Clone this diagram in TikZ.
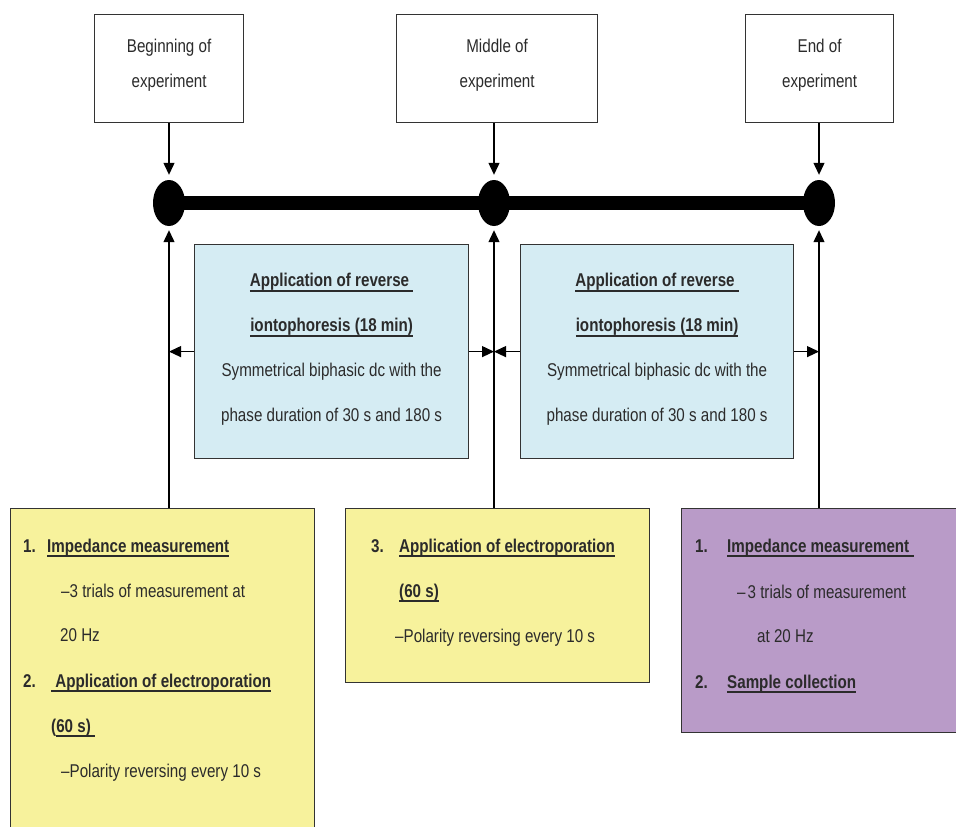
\documentclass[tikz,border=0pt]{standalone}
\usepackage{fontspec}
\setmainfont[FakeStretch=0.82]{Liberation Sans}
\usetikzlibrary{arrows.meta,shapes.geometric}
\definecolor{txt}{HTML}{2B2B2B}
\definecolor{linec}{HTML}{333333}
\definecolor{bluef}{HTML}{D5ECF3}
\definecolor{yellowf}{HTML}{F7F29C}
\definecolor{purplef}{HTML}{B99BC8}
\newcommand\myul[1]{\setbox0\hbox{#1}\rlap{\color{txt}\rule[-5pt]{\wd0}{2pt}}\box0}
\begin{document}
\begin{tikzpicture}[x=1pt,y=-1pt,
  every node/.style={text=txt},
  boxbase/.style={draw=linec, line width=1.2pt, inner sep=0pt, anchor=north west},
  topbox/.style={boxbase, fill=white, align=center, font=\fontsize{18.5}{35}\selectfont, text depth=10pt},
  bluebox/.style={boxbase, fill=bluef, align=center, font=\fontsize{18.5}{45}\selectfont, text depth=8pt},
  yellowbox/.style={boxbase, fill=yellowf},
  purplebox/.style={boxbase, fill=purplef},
  lbl/.style={anchor=base west, inner sep=0pt, font=\fontsize{18.5}{22}\selectfont},
  blbl/.style={lbl, font=\fontsize{18.5}{22}\selectfont\bfseries},
  dot/.style={ellipse, fill=black, draw=none, minimum width=32pt, minimum height=46pt, inner sep=0pt},
  arr/.style={draw=black, line width=1.2pt, -{Triangle[width=11pt,length=12pt]}}
]
\clip (0,0) rectangle (956,827);
\fill[white] (0,0) rectangle (956,827);

% top boxes
\node[topbox, minimum width=149pt, minimum height=108pt] (b1) at (94,14) {Beginning of\\experiment};
\node[topbox, minimum width=201pt, minimum height=108pt] (b2) at (396,14) {Middle of\\experiment};
\node[topbox, minimum width=148pt, minimum height=108pt] (b3) at (745,14) {End of\\experiment};

% timeline
\node[dot] (d1) at (169,203) {};
\node[dot] (d2) at (494,203) {};
\node[dot] (d3) at (819,203) {};
\draw[line width=14pt] (d1.center) -- (d3.center);

% blue boxes
\node[bluebox, minimum width=274pt, minimum height=214pt] (bA) at (194,244)
  {\textbf{\myul{Application of reverse\ }}\\\textbf{\myul{iontophoresis (18 min)}}\\Symmetrical biphasic dc with the\\phase duration of 30 s and 180 s};
\node[bluebox, minimum width=273pt, minimum height=214pt] (bB) at (520,244)
  {\textbf{\myul{Application of reverse\ }}\\\textbf{\myul{iontophoresis (18 min)}}\\Symmetrical biphasic dc with the\\phase duration of 30 s and 180 s};

% bottom boxes
\node[yellowbox, minimum width=304pt, minimum height=345pt] (y1) at (10,508) {};
\node[yellowbox, minimum width=304pt, minimum height=174pt] (y2) at (345,508) {};
\node[purplebox, minimum width=290pt, minimum height=224pt] (p1) at (681,508) {};

% connectors
\draw[arr, shorten >=5pt] (b1.south -| d1) -- (d1.north);
\draw[arr, shorten >=5pt] (b2.south -| d2) -- (d2.north);
\draw[arr, shorten >=5pt] (b3.south -| d3) -- (d3.north);
\draw[arr, shorten >=4pt] (d1 |- y1.north) -- (d1.south);
\draw[arr, shorten >=4pt] (d2 |- y2.north) -- (d2.south);
\draw[arr, shorten >=4pt] (d3 |- p1.north) -- (d3.south);
\draw[arr] (bA.west) -- (bA.west -| d1);
\draw[arr] (bA.east) -- (bA.east -| d2);
\draw[arr] (bB.west) -- (bB.west -| d2);
\draw[arr] (bB.east) -- (bB.east -| d3);

% yellow box 1 text
\node[blbl] (y1a) at (23,552) {1.};
\node[blbl] (y1b) at (47,552) {\myul{Impedance measurement}};
\node[lbl]  (y1c) at (61,597) {–3 trials of measurement at};
\node[lbl]  (y1d) at (60,641) {20 Hz};
\node[blbl] (y1e) at (23,687) {2.};
\node[blbl] (y1f) at (51,687) {\myul{\ Application of electroporation}};
\node[blbl] (y1g) at (51,732) {(\myul{60 s)\ }};
\node[lbl]  (y1h) at (61,777) {–Polarity reversing every 10 s};

% yellow box 2 text
\node[blbl] (y2a) at (371,552) {3.};
\node[blbl] (y2b) at (399,552) {\myul{Application of electroporation}};
\node[blbl] (y2c) at (399,597) {\myul{(60 s)}};
\node[lbl]  (y2d) at (395,642) {–Polarity reversing every 10 s};

% purple box text
\node[blbl] (p1a) at (695,552) {1.};
\node[blbl] (p1b) at (727,552) {\myul{Impedance measurement\ }};
\node[lbl]  (p1c) at (737,598) {–\kern2pt 3 trials of measurement};
\node[lbl]  (p1d) at (757,642) {at 20 Hz};
\node[blbl] (p1e) at (695,688) {2.};
\node[blbl] (p1f) at (727,688) {\myul{Sample collection}};
\end{tikzpicture}
\end{document}
